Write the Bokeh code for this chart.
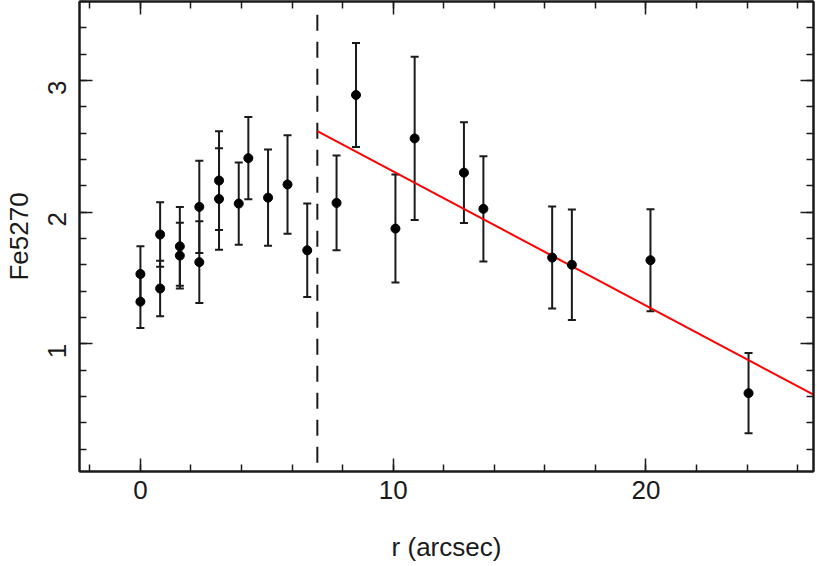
import math
import numpy as np
from bokeh.plotting import figure
from bokeh.models import (Range1d, LinearAxis, Whisker, ColumnDataSource, TeeHead,
                          CustomJSTickFormatter, SingleIntervalTicker)
from bokeh.embed import file_html
from bokeh.resources import INLINE

# ---- data ----
r = [0.0, 0.0, 0.78, 0.78, 1.56, 1.56, 2.33, 2.33, 3.11, 3.11, 3.89, 4.27, 5.05,
     5.82, 6.60, 7.76, 8.53, 10.09, 10.85, 12.80, 13.57, 16.29, 17.07, 20.18, 24.06]
fe5270 = [1.53, 1.32, 1.83, 1.42, 1.74, 1.67, 2.04, 1.62, 2.24, 2.10, 2.065, 2.41, 2.11,
          2.21, 1.71, 2.07, 2.89, 1.875, 2.56, 2.30, 2.025, 1.655, 1.60, 1.635, 0.625]
err = [0.21, 0.20, 0.245, 0.21, 0.30, 0.25, 0.35, 0.31, 0.375, 0.385, 0.313, 0.313, 0.365,
       0.375, 0.355, 0.36, 0.395, 0.41, 0.62, 0.383, 0.40, 0.387, 0.42, 0.387, 0.305]

boundary_r = 7.0        # dashed vertical line
boundary_top = 3.5
fit_intercept = 3.33    # linear fit beyond boundary
fit_slope = -0.102

x_label = "r (arcsec)"
y_label = "Fe5270"

X_START, X_END = -2.41, 26.63
Y_START, Y_END = 0.03, 3.6

INK = "#1a1a1a"
FONT = "Liberation Sans"

r_arr = np.array(r)
fe_arr = np.array(fe5270)
e_arr = np.array(err)
src = ColumnDataSource(dict(r=r_arr, fe=fe_arr, upper=fe_arr + e_arr, lower=fe_arr - e_arr))

p = figure(width=817, height=566, x_range=Range1d(X_START, X_END), y_range=Range1d(Y_START, Y_END),
           output_backend="svg", toolbar_location=None,
           x_axis_location=None, y_axis_location=None,
           min_border_left=79, min_border_right=4, min_border_top=1, min_border_bottom=95)
p.grid.visible = False
p.outline_line_color = INK
p.outline_line_width = 2
p.background_fill_color = "white"
p.border_fill_color = "white"


def style(ax, labelled):
    ax.major_tick_in = 13
    ax.major_tick_out = 0
    ax.minor_tick_in = 7
    ax.minor_tick_out = 0
    ax.major_tick_line_color = INK
    ax.minor_tick_line_color = INK
    ax.major_tick_line_width = 1.5
    ax.minor_tick_line_width = 1.5
    ax.axis_line_color = INK
    ax.axis_line_width = 2
    if labelled:
        ax.major_label_text_font = FONT
        ax.major_label_text_font_size = "26px"
        ax.major_label_text_color = INK
        ax.axis_label_text_font = FONT
        ax.axis_label_text_font_size = "26px"
        ax.axis_label_text_font_style = "normal"
        ax.axis_label_text_color = INK
    else:
        ax.formatter = CustomJSTickFormatter(code="return ''")
        ax.major_label_text_font_size = "0px"
        ax.major_label_standoff = 0
        ax.axis_label_standoff = 0


xb = LinearAxis(ticker=SingleIntervalTicker(interval=10, num_minor_ticks=5), axis_label=x_label)
style(xb, True)
xb.major_label_standoff = 9
xb.axis_label_standoff = 30
p.add_layout(xb, "below")

yl = LinearAxis(ticker=SingleIntervalTicker(interval=1, num_minor_ticks=5), axis_label=y_label)
style(yl, True)
yl.major_label_orientation = math.pi / 2
yl.major_label_standoff = 22
yl.axis_label_standoff = 3
p.add_layout(yl, "left")

xt = LinearAxis(ticker=SingleIntervalTicker(interval=10, num_minor_ticks=5))
style(xt, False)
p.add_layout(xt, "above")

yr = LinearAxis(ticker=SingleIntervalTicker(interval=1, num_minor_ticks=5))
style(yr, False)
p.add_layout(yr, "right")

# dashed boundary
p.line([boundary_r, boundary_r], [boundary_top, Y_START], line_dash="16 11", line_width=2, line_color=INK)

# fit line
fit_x = np.array([boundary_r, X_END])
p.line(fit_x, fit_intercept + fit_slope * fit_x, line_color="#ff0000", line_width=2)

# error bars
wh = Whisker(base="r", upper="upper", lower="lower", source=src, line_width=2, line_color=INK,
             upper_head=TeeHead(size=8, line_width=2, line_color=INK),
             lower_head=TeeHead(size=8, line_width=2, line_color=INK))
p.add_layout(wh)

p.scatter("r", "fe", source=src, size=9, fill_color="black", line_color="black")

open("out.html", "w").write(file_html(p, INLINE))
